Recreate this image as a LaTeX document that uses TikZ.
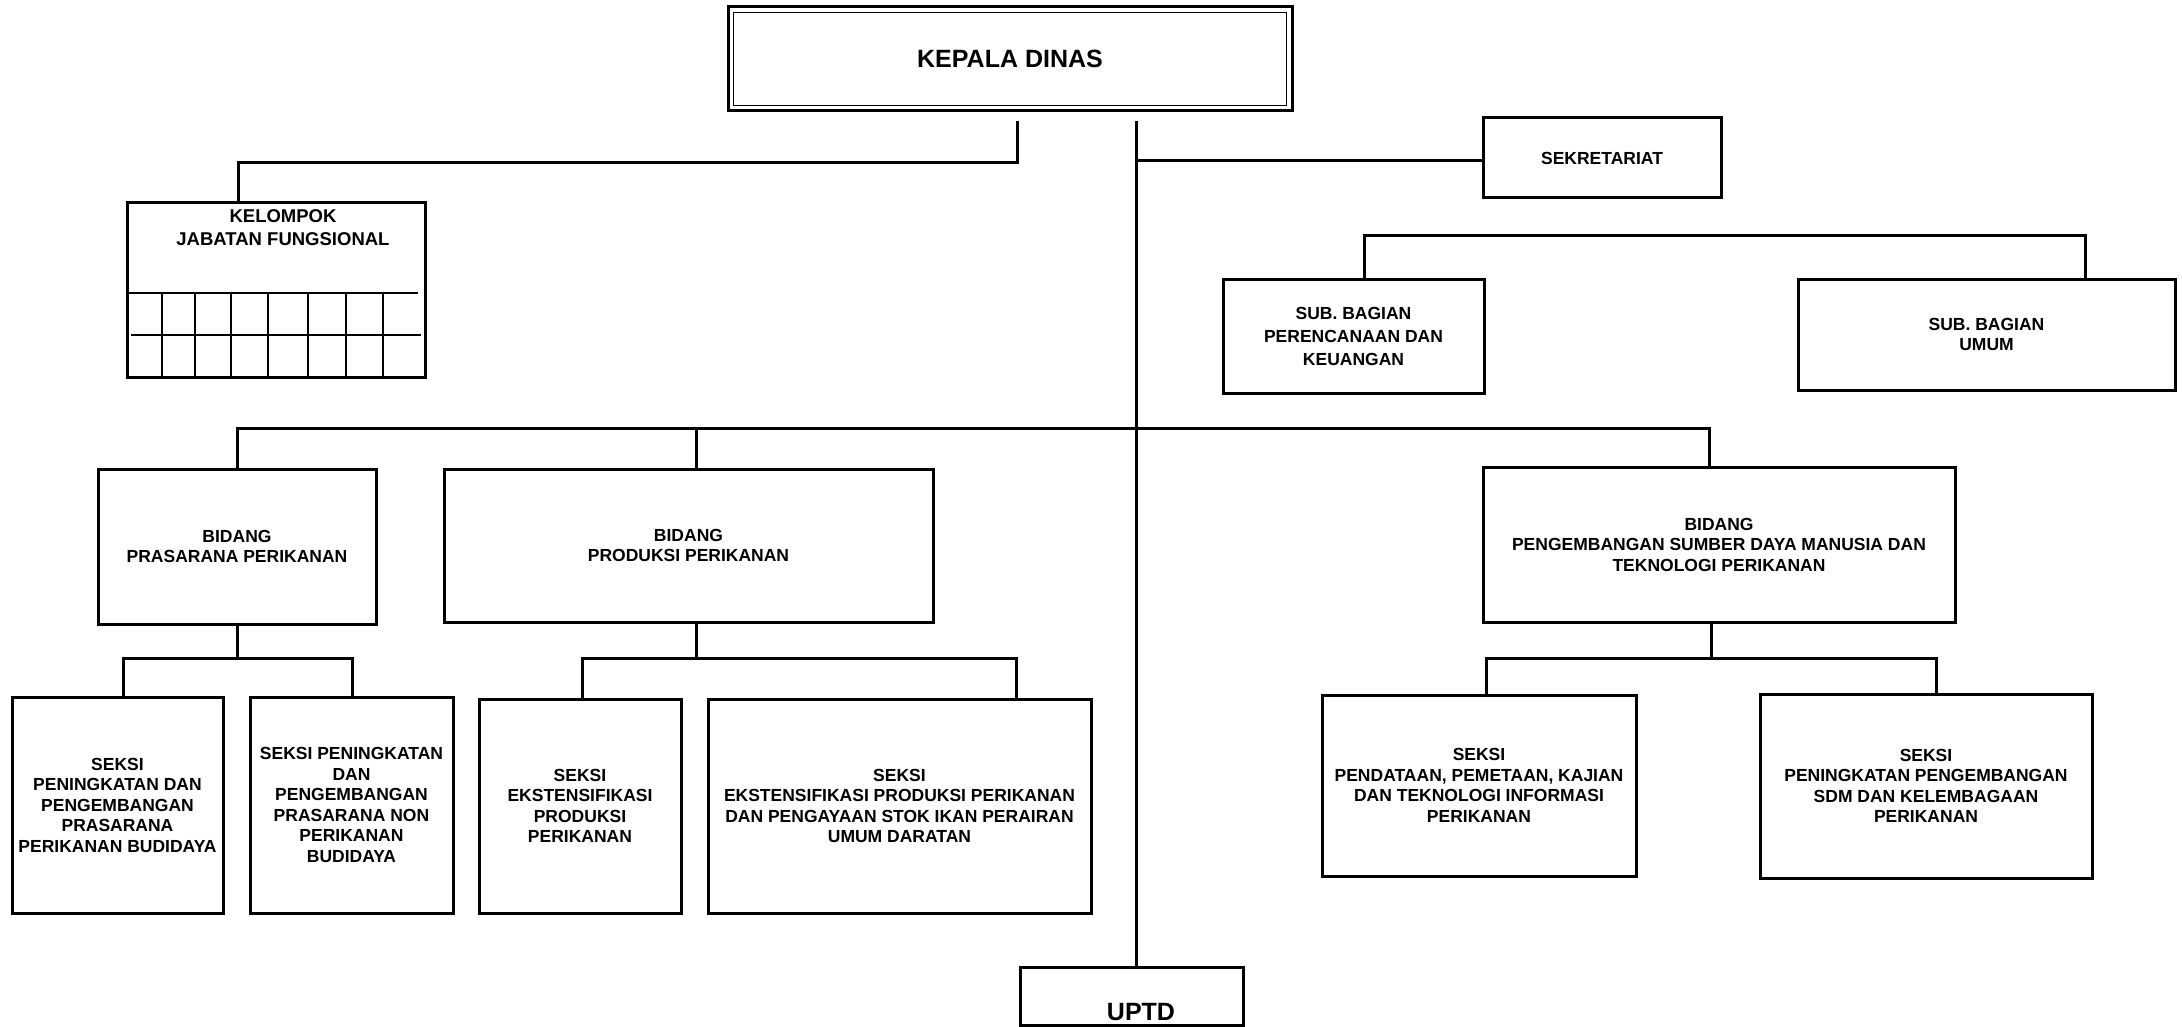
\documentclass[tikz,border=0pt]{standalone}
\usepackage{fontspec}
\setmainfont{Liberation Sans}
\begin{document}
\begin{tikzpicture}[x=1pt,y=-1pt,
  box/.style={draw,line width=3pt,inner sep=0pt,align=center,
    font=\bfseries\fontsize{17.5}{20.5}\selectfont},
  lbl/.style={inner sep=0pt,align=center,font=\bfseries\fontsize{17.5}{20.5}\selectfont},
  conn/.style={line width=3pt,line join=miter}]
\fill[white] (0,0) rectangle (2182,1027);
\useasboundingbox (0,0) rectangle (2182,1027);

% top
\node[box,minimum width=564pt,minimum height=104pt,font=\bfseries\fontsize{25}{28}\selectfont] (kd) at (1010,59) {KEPALA DINAS};
\draw[line width=1.8pt] ([shift={(7,7)}]kd.north west) rectangle ([shift={(-7,-7)}]kd.south east);

\node[box,minimum width=298pt,minimum height=174pt] (kjf) at (276,290) {};
\node[lbl,font=\bfseries\fontsize{18.5}{23}\selectfont] (kjft) at (283,228) {KELOMPOK\\JABATAN FUNGSIONAL};
\draw[line width=2.8pt] (127,293) -- (418,293);
\draw[line width=2.8pt] (131,335) -- (421,335);
\foreach \cx in {162,195,231,268,308,346,383}
  \draw[line width=2.8pt] (\cx,293) -- (\cx,377);

\node[box,minimum width=238pt,minimum height=80pt] (sek) at (1602,158) {SEKRETARIAT};
\node[box,minimum width=261pt,minimum height=114pt,font=\bfseries\fontsize{17.5}{23}\selectfont] (sbp) at (1353.5,336) {SUB. BAGIAN\\PERENCANAAN DAN\\KEUANGAN};
\node[box,minimum width=377pt,minimum height=111pt] (sbu) at (1986.5,334.5) {SUB. BAGIAN\\UMUM};

% bidang
\node[box,minimum width=278pt,minimum height=155pt] (bpr) at (237,546.5) {BIDANG\\PRASARANA PERIKANAN};
\node[box,minimum width=489pt,minimum height=153pt] (bpp) at (688.5,545.5) {BIDANG\\PRODUKSI PERIKANAN};
\node[box,minimum width=472pt,minimum height=155pt] (bps) at (1719,544.5) {BIDANG\\PENGEMBANGAN SUMBER DAYA MANUSIA DAN\\TEKNOLOGI PERIKANAN};

% seksi
\node[box,minimum width=211pt,minimum height=216pt] (s1) at (117.5,805) {SEKSI\\PENINGKATAN DAN\\PENGEMBANGAN\\PRASARANA\\PERIKANAN BUDIDAYA};
\node[box,minimum width=203pt,minimum height=216pt] (s2) at (351.5,805) {SEKSI PENINGKATAN\\DAN\\PENGEMBANGAN\\PRASARANA NON\\PERIKANAN\\BUDIDAYA};
\node[box,minimum width=202pt,minimum height=214pt] (s3) at (580,806) {SEKSI\\EKSTENSIFIKASI\\PRODUKSI\\PERIKANAN};
\node[box,minimum width=383pt,minimum height=214pt] (s4) at (899.5,806) {SEKSI\\EKSTENSIFIKASI PRODUKSI PERIKANAN\\DAN PENGAYAAN STOK IKAN PERAIRAN\\UMUM DARATAN};
\node[box,minimum width=314pt,minimum height=181pt] (s5) at (1479,785.5) {SEKSI\\PENDATAAN, PEMETAAN, KAJIAN\\DAN TEKNOLOGI INFORMASI\\PERIKANAN};
\node[box,minimum width=332pt,minimum height=184pt] (s6) at (1926,786) {SEKSI\\PENINGKATAN PENGEMBANGAN\\SDM DAN KELEMBAGAAN\\PERIKANAN};

\node[box,minimum width=223pt,minimum height=58pt] (uptd) at (1131.5,996) {};
\node[lbl,font=\bfseries\fontsize{25}{28}\selectfont] (uptdt) at (1141,1012) {UPTD};

% connector coordinates
\coordinate (kdl) at (1017,121);
\coordinate (kjc) at (238,163);
\coordinate (trt) at (1136,121);
\coordinate (sekj) at (1136,161);
\coordinate (brl) at (1364,236);
\coordinate (brr) at (2085,236);
\coordinate (j1) at (237,428);
\coordinate (j2) at (696,428);
\coordinate (j3) at (1709,428);
\coordinate (a0) at (237,658);
\coordinate (a1) at (123,658);
\coordinate (a2) at (352,658);
\coordinate (b0) at (696,658);
\coordinate (b1) at (582,658);
\coordinate (b2) at (1016,658);
\coordinate (c0) at (1711,658);
\coordinate (c1) at (1486,658);
\coordinate (c2) at (1936,658);

% connectors
\draw[conn] (kdl) |- (kjc) -- (kjc |- kjf.north);
\draw[conn] (trt) -- (trt |- uptd.north);
\draw[conn] (sekj) -- (sekj -| sek.west);
\draw[conn] (brl |- sbp.north) -- (brl) -- (brr) -- (brr |- sbu.north);
\draw[conn] (j1 |- bpr.north) -- (j1) -- (j3) -- (j3 |- bps.north);
\draw[conn] (j2) -- (j2 |- bpp.north);
\draw[conn] (a0 |- bpr.south) -- (a0);
\draw[conn] (a1 |- s1.north) -- (a1) -- (a2) -- (a2 |- s2.north);
\draw[conn] (b0 |- bpp.south) -- (b0);
\draw[conn] (b1 |- s3.north) -- (b1) -- (b2) -- (b2 |- s4.north);
\draw[conn] (c0 |- bps.south) -- (c0);
\draw[conn] (c1 |- s5.north) -- (c1) -- (c2) -- (c2 |- s6.north);
\end{tikzpicture}
\end{document}
